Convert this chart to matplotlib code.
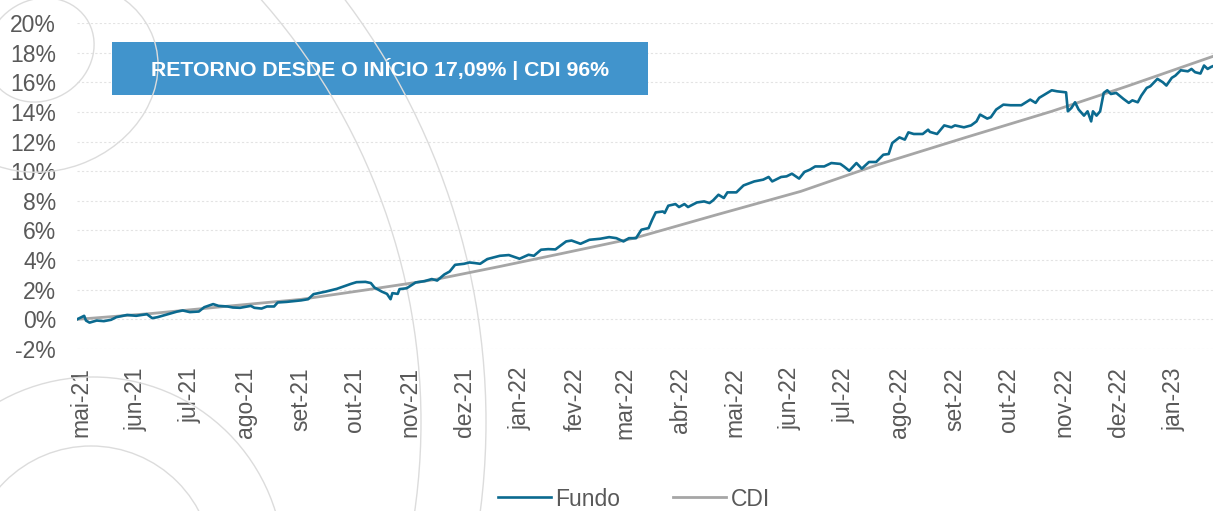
import datetime as dt
import matplotlib
matplotlib.use("Agg")
import matplotlib.pyplot as plt
from matplotlib.patches import Rectangle, Circle, Ellipse
from matplotlib.ticker import FuncFormatter

# dias corridos a partir do início do fundo
inicio = dt.date(2021, 4, 29)

dias_fundo = [0, 4, 5, 7, 11, 15, 19, 22, 28, 33,
              39, 42, 45, 50, 56, 59, 63, 68, 71, 76,
              79, 84, 87, 91, 97, 99, 103, 106, 110, 112,
              117, 125, 129, 132, 139, 145, 153, 156, 161, 164,
              166, 170, 173, 175, 176, 179, 180, 184, 189, 194,
              198, 201, 205, 208, 211, 216, 219, 222, 225, 229,
              236, 241, 247, 252, 255, 259, 263, 267, 273, 276,
              281, 286, 292, 297, 301, 305, 308, 312, 315, 319,
              321, 323, 327, 328, 330, 334, 336, 339, 341, 346,
              350, 353, 355, 358, 361, 363, 368, 372, 378, 383,
              386, 388, 393, 396, 399, 403, 406, 409, 412, 417,
              421, 426, 428, 431, 435, 438, 442, 446, 450, 453,
              455, 459, 462, 464, 467, 472, 475, 476, 480, 484,
              488, 490, 495, 499, 502, 504, 508, 510, 513, 517,
              521, 527, 532, 535, 537, 540, 544, 547, 552, 553,
              555, 557, 559, 562, 564, 566, 567, 569, 571, 573,
              575, 577, 580, 584, 587, 589, 592, 594, 597, 599,
              603, 606, 608, 611, 613, 616, 620, 622, 624, 627,
              629, 631, 633, 634]

fundo = [0.00, 0.24, -0.08, -0.22, -0.08, -0.12, -0.03, 0.15, 0.30, 0.24,
         0.35, 0.08, 0.15, 0.32, 0.53, 0.60, 0.49, 0.53, 0.82, 1.03,
         0.91, 0.87, 0.80, 0.78, 0.91, 0.78, 0.73, 0.87, 0.87, 1.14,
         1.18, 1.28, 1.36, 1.70, 1.88, 2.06, 2.40, 2.51, 2.53, 2.45,
         2.15, 1.88, 1.72, 1.36, 1.77, 1.72, 2.04, 2.10, 2.49, 2.58,
         2.72, 2.62, 3.03, 3.23, 3.68, 3.75, 3.84, 3.80, 3.75, 4.07,
         4.29, 4.34, 4.09, 4.36, 4.29, 4.70, 4.74, 4.72, 5.26, 5.32,
         5.10, 5.37, 5.44, 5.55, 5.48, 5.26, 5.48, 5.48, 6.05, 6.16,
         6.72, 7.22, 7.28, 7.18, 7.67, 7.78, 7.58, 7.78, 7.58, 7.89,
         7.96, 7.85, 8.03, 8.41, 8.19, 8.57, 8.57, 9.04, 9.31, 9.43,
         9.61, 9.31, 9.61, 9.65, 9.83, 9.50, 9.95, 10.10, 10.32, 10.32,
         10.55, 10.49, 10.32, 10.03, 10.55, 10.17, 10.62, 10.62, 11.11, 11.16,
         11.90, 12.28, 12.13, 12.62, 12.51, 12.51, 12.80, 12.65, 12.51, 13.09,
         12.96, 13.09, 12.96, 13.09, 13.36, 13.82, 13.55, 13.64, 14.16, 14.49,
         14.45, 14.45, 14.83, 14.61, 14.95, 15.17, 15.46, 15.39, 15.32, 14.04,
         14.27, 14.65, 14.16, 13.75, 14.04, 13.36, 14.04, 13.75, 14.04, 15.28,
         15.46, 15.21, 15.28, 14.88, 14.61, 14.78, 14.65, 15.10, 15.62, 15.73,
         16.23, 16.00, 15.78, 16.30, 16.45, 16.81, 16.74, 16.90, 16.68, 16.59,
         17.13, 16.90, 17.04, 17.09]

dias_cdi = [0, 42, 85, 125, 162, 199, 236, 270, 311, 357,
            404, 447, 495, 544, 586, 634]
cdi = [0.00, 0.40, 0.90, 1.35, 2.00, 2.67, 3.57, 4.43, 5.48, 7.06,
       8.64, 10.44, 12.24, 14.04, 15.73, 17.75]

meses = ["mai-21", "jun-21", "jul-21", "ago-21", "set-21", "out-21", "nov-21",
         "dez-21", "jan-22", "fev-22", "mar-22", "abr-22", "mai-22", "jun-22",
         "jul-22", "ago-22", "set-22", "out-22", "nov-22", "dez-22", "jan-23"]

titulo = "RETORNO DESDE O INÍCIO 17,09% | CDI 96%"

datas_fundo = [inicio + dt.timedelta(days=d) for d in dias_fundo]
datas_cdi = [inicio + dt.timedelta(days=d) for d in dias_cdi]
ticks_meses = [dt.date(2021 + (4 + i) // 12, (4 + i) % 12 + 1, 1) for i in range(len(meses))]

plt.rcParams["font.family"] = ["Liberation Sans", "DejaVu Sans"]
cinza = "#595959"

W, H = 1213, 511
fig = plt.figure(figsize=(W / 100, H / 100), dpi=100)

# eixo auxiliar em pixels, para o fundo decorativo e a faixa do título
tela = fig.add_axes([0, 0, 1, 1])
tela.set_xlim(0, W)
tela.set_ylim(H, 0)
tela.set_axis_off()
tela.set_zorder(-1)

ax = fig.add_axes([77 / W, 1 - 349 / H, 1 - 77 / W, (349 - 23) / H])
ax.patch.set_alpha(0)

# arcos decorativos
arco = dict(fill=False, edgecolor="#DCDCDC", lw=1.0, zorder=2.5,
            transform=tela.transData, clip_on=False)
for p in [Circle((-217, 422), 638, **arco),
          Circle((-217, 422), 703, **arco),
          Circle((93, 568), 191, **arco),
          Circle((91, 568), 122, **arco),
          Ellipse((40, 50), 112, 100, angle=-35, **arco),
          Ellipse((48, 76), 224, 188, angle=-20, **arco)]:
    ax.add_patch(p)

ax.add_patch(Rectangle((112, 42), 536, 53, facecolor="#4194CC", edgecolor="none",
                       zorder=2, transform=tela.transData, clip_on=False))
ax.text(380, 69, titulo, transform=tela.transData, color="white", fontsize=15.3,
        fontweight="bold", ha="center", va="center", zorder=5)

l_cdi, = ax.plot(datas_cdi, cdi, color="#A6A6A6", lw=2.0, zorder=3, label="CDI")
l_fundo, = ax.plot(datas_fundo, fundo, color="#0B6A8F", lw=1.9, zorder=4, label="Fundo")

ax.set_ylim(-2, 20)
ax.set_yticks(range(-2, 21, 2))
ax.yaxis.set_major_formatter(FuncFormatter(lambda v, p: f"{v:.0f}%"))
ax.set_xlim(datas_fundo[0], datas_fundo[-1])
ax.set_xticks(ticks_meses)
ax.set_xticklabels(meses, rotation=90)
ax.tick_params(axis="both", length=0, labelsize=16.5, labelcolor=cinza)
ax.tick_params(axis="y", pad=15)
ax.tick_params(axis="x", pad=13)
ax.set_axisbelow(True)
ax.grid(axis="y", color="#E3E3E3", lw=0.8, ls=(0, (2, 2)))
for s in ax.spines.values():
    s.set_visible(False)

fig.legend(handles=[l_fundo, l_cdi], loc="center", bbox_to_anchor=(634 / W, 1 - 499 / H),
           ncol=2, frameon=False, fontsize=16.5, handlelength=2.3, handletextpad=0.2,
           columnspacing=2.3, labelcolor=cinza, borderpad=0)

fig.savefig("out.png", dpi=100)
